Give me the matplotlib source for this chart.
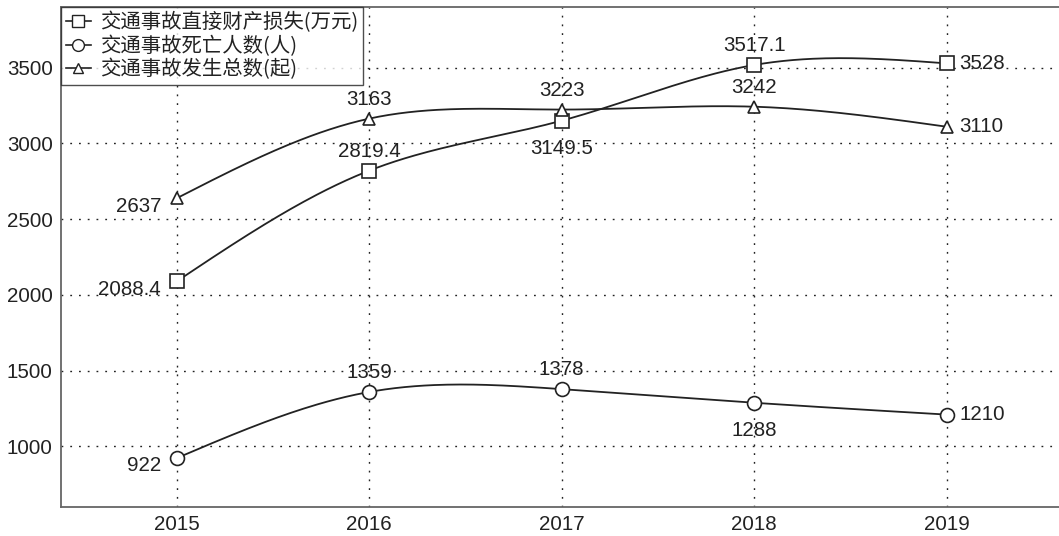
import numpy as np
import matplotlib
matplotlib.use("Agg")
import matplotlib.pyplot as plt
from matplotlib.lines import Line2D

plt.rcParams['font.family'] = ['Liberation Sans', 'Noto Sans CJK SC', 'DejaVu Sans']

years = [2015, 2016, 2017, 2018, 2019]
loss = [2088.4, 2819.4, 3149.5, 3517.1, 3528]
deaths = [922, 1359, 1378, 1288, 1210]
accidents = [2637, 3163, 3223, 3242, 3110]
labels = ['交通事故直接财产损失(万元)', '交通事故死亡人数(人)', '交通事故发生总数(起)']

# label placement per point
loss_pos = ['lb', 'a', 'b', 'a', 'r']
death_pos = ['l', 'a', 'a', 'b', 'r']
acc_pos = ['lb', 'a', 'a', 'a', 'r']


def natural_spline(x, y, n=60):
    x = np.asarray(x, float); y = np.asarray(y, float)
    k = len(x)
    h = np.diff(x)
    A = np.zeros((k, k)); b = np.zeros(k)
    A[0, 0] = 1; A[-1, -1] = 1
    for i in range(1, k - 1):
        A[i, i - 1] = h[i - 1]; A[i, i] = 2 * (h[i - 1] + h[i]); A[i, i + 1] = h[i]
        b[i] = 6 * ((y[i + 1] - y[i]) / h[i] - (y[i] - y[i - 1]) / h[i - 1])
    M = np.linalg.solve(A, b)
    xs, ys = [], []
    for i in range(k - 1):
        t = np.linspace(x[i], x[i + 1], n)
        a = x[i + 1] - t; c = t - x[i]
        s = (M[i] * a ** 3 + M[i + 1] * c ** 3) / (6 * h[i]) \
            + (y[i] / h[i] - M[i] * h[i] / 6) * a + (y[i + 1] / h[i] - M[i + 1] * h[i] / 6) * c
        xs.append(t); ys.append(s)
    return np.concatenate(xs), np.concatenate(ys)


FS = 14.8
W, H = 1059, 536
fig = plt.figure(figsize=(W / 100, H / 100), dpi=100)
ax = fig.add_axes([61 / W, 1 - 507 / H, (1062 - 61) / W, (507 - 7) / H])

ax.set_xlim(2014.4, 2019.6)
ax.set_ylim(600, 3900)
ax.set_xticks(years)
ax.set_yticks([1000, 1500, 2000, 2500, 3000, 3500])
ax.tick_params(length=0, labelsize=FS, pad=6, labelcolor='#222222')
ax.grid(True, color='#222222', linestyle=(0, (1.3, 5)), linewidth=1.0)
for s in ax.spines.values():
    s.set_color('#666666'); s.set_linewidth(1.3)

markers = ['s', 'o', '^']
msizes = [9.5, 10, 9]
series = [loss, deaths, accidents]
poss = [loss_pos, death_pos, acc_pos]
for ser, mk, ms, pos in zip(series, markers, msizes, poss):
    xs, ys = natural_spline(years, ser)
    ax.plot(xs, ys, color='#222222', lw=1.3, zorder=3)
    ax.plot(years, ser, linestyle='none', marker=mk, ms=ms, mfc='white', mec='#222222', mew=1.2, zorder=4)
    for xv, yv, p in zip(years, ser, pos):
        if p == 'a':
            off, ha, va = (0, 7), 'center', 'bottom'
        elif p == 'b':
            off, ha, va = (0, -13), 'center', 'top'
        elif p == 'r':
            off, ha, va = (9, 0), 'left', 'center'
        elif p == 'l':
            off, ha, va = (-11, -5), 'right', 'center'
        else:  # lb
            off, ha, va = (-11, -6), 'right', 'center'
        ax.annotate(f'{yv:g}', (xv, yv), xytext=off, textcoords='offset points',
                    ha=ha, va=va, fontsize=FS, color='#222222', zorder=5)

handles = [Line2D([], [], color='#222222', lw=1.2, marker=m, ms=ms * 0.85, mfc='white', mec='#222222')
           for m, ms in zip(markers, msizes)]
leg = ax.legend(handles, labels, loc='upper left', bbox_to_anchor=(0, 1), borderaxespad=0,
                frameon=True, fancybox=False, handlelength=1.2, handletextpad=0.45,
                labelspacing=0.1, borderpad=0.25,
                prop={'family': ['Noto Sans CJK SC', 'Liberation Sans'], 'size': 14.7})
for t in leg.get_texts():
    t.set_color('#222222')
leg.get_frame().set_edgecolor('#222222')
leg.get_frame().set_linewidth(1.0)

fig.savefig('out.png', dpi=100)
